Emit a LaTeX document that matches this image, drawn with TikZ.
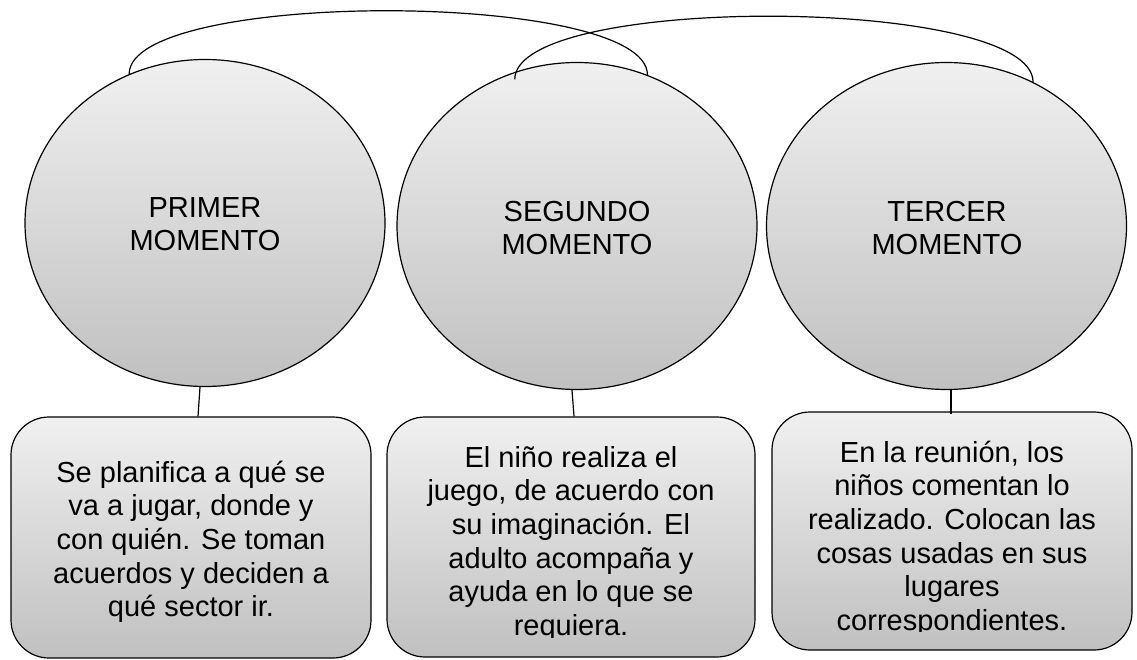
\documentclass[tikz,border=0pt]{standalone}
\usepackage{fontspec}
\setmainfont{Liberation Sans}
\usetikzlibrary{shapes.geometric}
\definecolor{shadetop}{RGB}{240,240,240}
\definecolor{shadebot}{RGB}{192,192,192}
\tikzset{
  moment/.style={ellipse, draw=black, line width=1.2pt, top color=shadetop, bottom color=shadebot,
    minimum width=360pt, minimum height=327pt, inner sep=0pt},
  card/.style={rectangle, rounded corners=38pt, draw=black, line width=1.2pt, top color=shadetop,
    bottom color=shadebot, inner sep=0pt},
  lbl/.style={anchor=north, inner sep=0pt, align=center, text=black, font=\fontsize{29}{33.6}\selectfont},
  link/.style={line width=1.2pt, draw=black}
}
\begin{document}
\begin{tikzpicture}[x=1pt, y=-1pt]
\useasboundingbox (0,0) rectangle (1137,660);
% circles
\node[moment] (c1) at (205,223) {};
\node[moment] (c2) at (577,226) {};
\node[moment] (c3) at (946.5,226) {};
\node[lbl] (t1) at (205,193.5) {\strut PRIMER\\MOMENTO\strut};
\node[lbl] (t2) at (577,197.5) {\strut SEGUNDO\\MOMENTO\strut};
\node[lbl] (t3) at (947,197.5) {\strut TERCER\\MOMENTO\strut};
% boxes
\node[card, minimum width=360pt, minimum height=241pt] (b1) at (191,537.5) {};
\node[card, minimum width=368pt, minimum height=240pt] (b2) at (571,537) {};
\node[card, minimum width=360pt, minimum height=238pt] (b3) at (952,531) {};
\node[lbl] (d1) at (191,458.5) {\strut Se planifica a qué se\\va a jugar, donde y\\con quién. Se toman\\acuerdos y deciden a\\qué sector ir.\strut};
\begin{scope}
  \clip (380,400) rectangle (760,637);
  \node[lbl] (d2) at (571,443.5) {\strut El niño realiza el\\juego, de acuerdo con\\su imaginación. El\\adulto acompaña y\\ayuda en lo que se\\requiera.\strut};
\end{scope}
\begin{scope}
  \clip (765,400) rectangle (1137,631);
  \node[lbl] (d3) at (952,438.5) {\strut En la reunión, los\\niños comentan lo\\realizado. Colocan las\\cosas usadas en sus\\lugares\\correspondientes.\strut};
\end{scope}
% connectors circle -> box
\draw[link] ([xshift=-5pt]c1.south) -- ([xshift=7pt]b1.north);
\draw[link] ([xshift=-5pt]c2.south) -- ([xshift=3pt]b2.north);
\draw[link] ([xshift=4.5pt]c3.south) -- ([xshift=-1pt,yshift=-3pt]b3.north);
% arcs on top
\draw[link] (c1.117.8) .. controls +(0,-85) and +(0,-85) .. (c2.65.4);
\draw[link] ([yshift=-7.5pt]c2.112.3) .. controls +(0,-86) and +(0,-86) .. (c3.59.7);
\end{tikzpicture}
\end{document}
